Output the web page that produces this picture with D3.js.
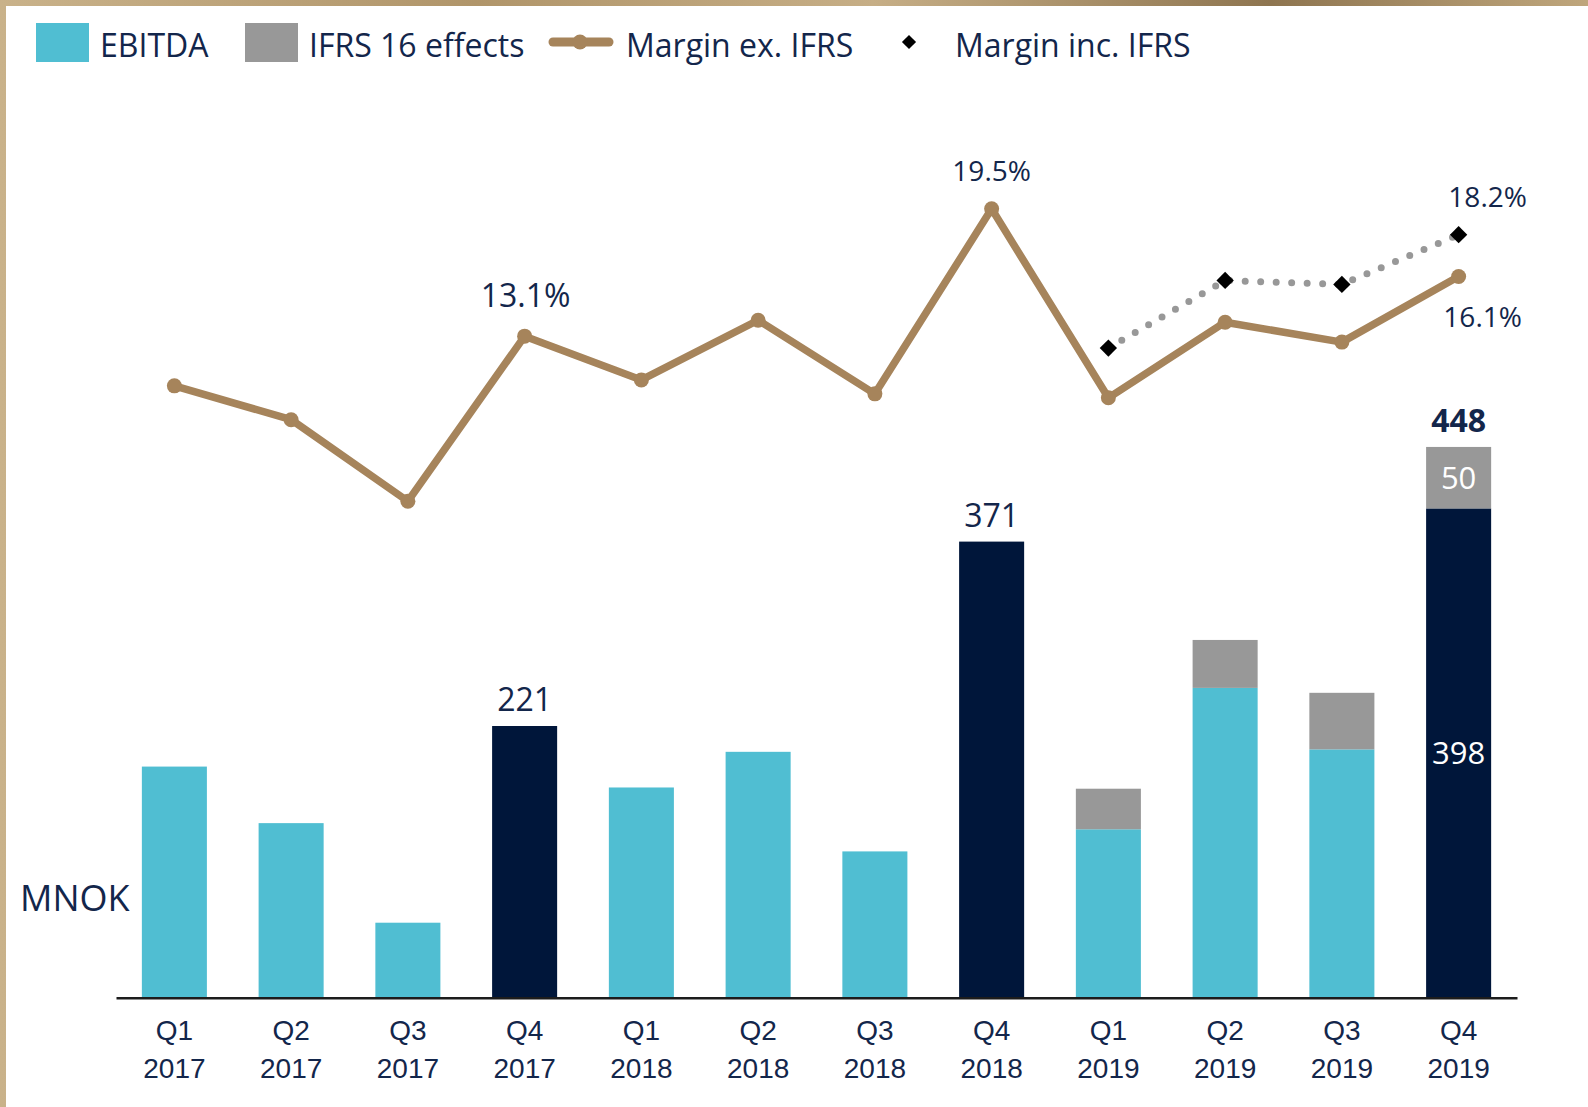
<!DOCTYPE html>
<html>
<head>
<meta charset="utf-8">
<script src="https://cdn.jsdelivr.net/npm/d3@7"></script>
<style>
  html, body { margin: 0; padding: 0; background: #fff; }
  svg { display: block; font-family: "Open Sans", "Noto Sans", sans-serif; }
</style>
</head>
<body>
<svg width="1588" height="1107"></svg>
<script>
// quarters on the x axis
const quarters = ['Q1','Q2','Q3','Q4','Q1','Q2','Q3','Q4','Q1','Q2','Q3','Q4'];
const years = ['2017','2017','2017','2017','2018','2018','2018','2018','2019','2019','2019','2019'];
const periods = quarters.map((q, i) => q + ' ' + years[i]);

// MNOK
const ebitda = [188, 142, 61, 221, 171, 200, 119, 371, 137, 252, 202, 398];
const ifrs16 = [0, 0, 0, 0, 0, 0, 0, 0, 33, 39, 46, 50];

// margin in %
const marginEx = [10.6, 8.9, 4.8, 13.1, 10.9, 13.9, 10.2, 19.5, 10.0, 13.8, 12.8, 16.1];
const marginIncPeriods = ['Q1 2019', 'Q2 2019', 'Q3 2019', 'Q4 2019'];
const marginInc = [12.5, 15.9, 15.7, 18.2];

// Q4 bars are dark
const highlighted = ['Q4 2017', 'Q4 2018', 'Q4 2019'];

const CYAN = '#50BED2', NAVY = '#00163A', GREY = '#989898', TAN = '#A6845B', TXT = '#13264B';

const svg = d3.select('svg');

// textured frame, top and left
const grad = svg.append('defs').append('linearGradient').attr('id', 'frame');
[['0%', '#C9B28A'], ['30%', '#B0956A'], ['55%', '#C6AE86'], ['80%', '#8E7550'], ['100%', '#BFA67C']]
  .forEach(s => grad.append('stop').attr('offset', s[0]).attr('stop-color', s[1]));
svg.append('rect').attr('width', 1588).attr('height', 1107).attr('fill', 'url(#frame)');
svg.append('rect').attr('x', 6).attr('y', 6).attr('width', 1582).attr('height', 1101).attr('fill', '#fff');

const x = d3.scaleBand().domain(periods).range([116, 1517]).paddingInner(0.443).paddingOuter(0.2215);
const y = d3.scaleLinear().domain([0, 800]).range([997.7, 14.2]);
const y2 = d3.scaleLinear().domain([0, 30]).range([596.7, 0]);

// bars
const bars = svg.append('g');
bars.selectAll('.ebitda')
  .data(periods)
  .enter()
  .append('rect')
  .attr('x', d => x(d))
  .attr('width', x.bandwidth())
  .attr('y', (d, i) => y(ebitda[i]))
  .attr('height', (d, i) => y(0) - y(ebitda[i]))
  .attr('fill', d => highlighted.includes(d) ? NAVY : CYAN);

bars.selectAll('.ifrs')
  .data(periods.filter((d, i) => ifrs16[i] > 0))
  .enter()
  .append('rect')
  .attr('x', d => x(d))
  .attr('width', x.bandwidth())
  .attr('y', d => { const i = periods.indexOf(d); return y(ebitda[i] + ifrs16[i]); })
  .attr('height', d => { const i = periods.indexOf(d); return y(ebitda[i]) - y(ebitda[i] + ifrs16[i]); })
  .attr('fill', GREY);

// x axis
const axis = svg.append('g')
  .attr('transform', 'translate(0,' + y(0) + ')')
  .call(d3.axisBottom(x).tickSize(0).tickSizeOuter(0).tickFormat(''));
axis.select('.domain').attr('stroke', '#1c1c1c').attr('stroke-width', 2.5);
axis.selectAll('.tick text').remove();
axis.selectAll('.tick').each(function (d, i) {
  const t = d3.select(this).append('text')
    .attr('fill', TXT).attr('font-size', 28).attr('text-anchor', 'middle');
  t.append('tspan').attr('x', 0).attr('y', 42).text(quarters[i]);
  t.append('tspan').attr('x', 0).attr('y', 80).text(years[i]);
});

// bar labels
const cx = d => x(d) + x.bandwidth() / 2;
highlighted.forEach(p => {
  const i = periods.indexOf(p);
  const total = ebitda[i] + ifrs16[i];
  svg.append('text')
    .attr('x', cx(p)).attr('y', y(total) - 15)
    .attr('text-anchor', 'middle').attr('font-size', 32)
    .attr('font-weight', ifrs16[i] > 0 ? 'bold' : 'normal')
    .attr('fill', TXT).text(total);
  if (ifrs16[i] > 0) {
    svg.append('text')
      .attr('x', cx(p)).attr('y', (y(total) + y(ebitda[i])) / 2 + 11)
      .attr('text-anchor', 'middle').attr('font-size', 31).attr('fill', '#fff').text(ifrs16[i]);
    svg.append('text')
      .attr('x', cx(p)).attr('y', (y(ebitda[i]) + y(0)) / 2 + 11)
      .attr('text-anchor', 'middle').attr('font-size', 31).attr('fill', '#fff').text(ebitda[i]);
  }
});

svg.append('text').attr('x', 20).attr('y', 911).attr('font-size', 36).attr('fill', TXT).text('MNOK');

// margin inc. IFRS (dotted + diamonds)
const incLine = d3.line().x((d, i) => cx(marginIncPeriods[i])).y(d => y2(d));
svg.append('path')
  .attr('d', incLine(marginInc))
  .attr('fill', 'none').attr('stroke', GREY).attr('stroke-width', 7)
  .attr('stroke-linecap', 'round').attr('stroke-dasharray', '0 15.5');

// margin ex. IFRS
const exLine = d3.line().x((d, i) => cx(periods[i])).y(d => y2(d));
svg.append('path')
  .attr('d', exLine(marginEx))
  .attr('fill', 'none').attr('stroke', TAN).attr('stroke-width', 7.5)
  .attr('stroke-linejoin', 'round');
svg.selectAll('.dot')
  .data(marginEx)
  .enter()
  .append('circle')
  .attr('cx', (d, i) => cx(periods[i]))
  .attr('cy', d => y2(d))
  .attr('r', 7.5)
  .attr('fill', TAN);

const diamond = d3.symbol().type(d3.symbolSquare).size(150);
svg.selectAll('.dia')
  .data(marginInc)
  .enter()
  .append('path')
  .attr('d', diamond)
  .attr('transform', (d, i) => 'translate(' + cx(marginIncPeriods[i]) + ',' + y2(d) + ') rotate(45)')
  .attr('fill', '#000');

// margin labels
const pct = d3.format('.1f');
const pctLabel = (p, v, dx, dy, size) => svg.append('text')
  .attr('x', cx(p) + dx).attr('y', y2(v) + dy)
  .attr('text-anchor', 'middle').attr('font-size', size).attr('fill', TXT)
  .text(pct(v) + '%');
pctLabel('Q4 2017', marginEx[3], 1, -29, 32);
pctLabel('Q4 2018', marginEx[7], 0, -28, 28);
pctLabel('Q4 2019', marginEx[11], 24, 51, 28);
pctLabel('Q4 2019', marginInc[3], 29, -28, 28);

// legend
const lg = svg.append('g').attr('font-size', 32).attr('fill', TXT);
lg.append('rect').attr('x', 36).attr('y', 23).attr('width', 53).attr('height', 39).attr('fill', CYAN);
lg.append('text').attr('x', 100).attr('y', 57).text('EBITDA');
lg.append('rect').attr('x', 245).attr('y', 23).attr('width', 53).attr('height', 39).attr('fill', GREY);
lg.append('text').attr('x', 309).attr('y', 57).text('IFRS 16 effects');
lg.append('line').attr('x1', 553).attr('x2', 609).attr('y1', 42).attr('y2', 42)
  .attr('stroke', TAN).attr('stroke-width', 9).attr('stroke-linecap', 'round');
lg.append('circle').attr('cx', 580).attr('cy', 42).attr('r', 7.5).attr('fill', TAN);
lg.append('text').attr('x', 626).attr('y', 57).text('Margin ex. IFRS');
lg.append('path').attr('d', d3.symbol().type(d3.symbolSquare).size(100))
  .attr('transform', 'translate(909,42) rotate(45)').attr('fill', '#000');
lg.append('text').attr('x', 955).attr('y', 57).text('Margin inc. IFRS');
</script>
</body>
</html>
